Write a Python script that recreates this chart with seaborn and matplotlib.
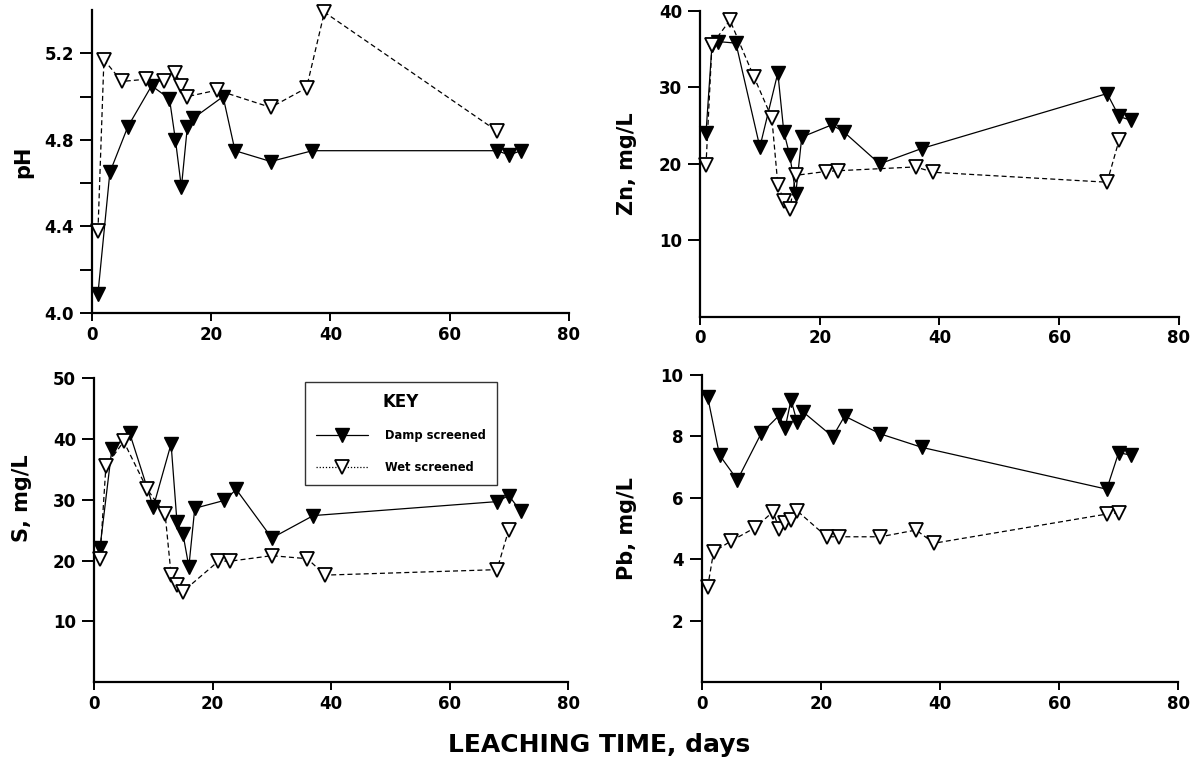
import numpy as np
import pandas as pd
import seaborn as sns
import matplotlib
matplotlib.use("Agg")
import matplotlib.pyplot as plt
from matplotlib.lines import Line2D

# ---- leachate data (days vs. concentration) ----
ph_damp_days = [1, 3, 6, 10, 13, 14, 15, 16, 17, 22, 24, 30, 37, 68, 70, 72]
ph_damp = [4.09, 4.65, 4.86, 5.05, 4.99, 4.80, 4.58, 4.86, 4.90, 5.00, 4.75, 4.70, 4.75, 4.75, 4.73, 4.75]
ph_wet_days = [1, 2, 5, 9, 12, 14, 15, 16, 21, 30, 36, 39, 68]
ph_wet = [4.38, 5.17, 5.07, 5.08, 5.07, 5.11, 5.05, 5.00, 5.03, 4.95, 5.04, 5.39, 4.84]

zn_damp_days = [1, 2, 3, 6, 10, 13, 14, 15, 16, 17, 22, 24, 30, 37, 68, 70, 72]
zn_damp = [24.0, 35.5, 36.0, 35.8, 22.2, 31.9, 24.2, 21.1, 16.1, 23.5, 25.1, 24.2, 20.0, 22.0, 29.2, 26.2, 25.7]
zn_wet_days = [1, 2, 5, 9, 12, 13, 14, 15, 16, 21, 23, 36, 39, 68, 70]
zn_wet = [19.8, 35.6, 38.8, 31.4, 26.0, 17.3, 15.2, 14.1, 18.5, 19.0, 19.1, 19.6, 18.9, 17.6, 23.1]

s_damp_days = [1, 3, 6, 10, 13, 14, 15, 16, 17, 22, 24, 30, 37, 68, 70, 72]
s_damp = [22.1, 38.3, 41.0, 28.8, 39.2, 26.3, 24.4, 19.0, 28.6, 29.9, 31.7, 23.7, 27.4, 29.7, 30.7, 28.1]
s_wet_days = [1, 2, 5, 9, 12, 13, 14, 15, 21, 23, 30, 36, 39, 68, 70]
s_wet = [20.3, 35.5, 39.6, 31.7, 27.6, 17.7, 15.9, 14.9, 19.9, 19.9, 20.8, 20.3, 17.6, 18.5, 25.1]

pb_damp_days = [1, 3, 6, 10, 13, 14, 15, 16, 17, 22, 24, 30, 37, 68, 70, 72]
pb_damp = [9.29, 7.39, 6.58, 8.10, 8.68, 8.26, 9.19, 8.48, 8.80, 7.99, 8.66, 8.08, 7.64, 6.28, 7.47, 7.39]
pb_wet_days = [1, 2, 5, 9, 12, 13, 14, 15, 16, 21, 23, 30, 36, 39, 68, 70]
pb_wet = [3.08, 4.24, 4.60, 5.03, 5.55, 4.98, 5.18, 5.28, 5.58, 4.73, 4.73, 4.73, 4.95, 4.52, 5.47, 5.51]

series_names = ["Damp screened", "Wet screened"]
y_labels = ["pH", "Zn, mg/L", "S, mg/L", "Pb, mg/L"]
x_label = "LEACHING TIME, days"
legend_title = "KEY"

sns.set_theme(style="ticks")
plt.rcParams["font.family"] = ["DejaVu Sans"]
plt.rcParams["font.weight"] = "bold"
plt.rcParams["text.color"] = "black"
plt.rcParams["axes.labelcolor"] = "black"
plt.rcParams["xtick.color"] = "black"
plt.rcParams["ytick.color"] = "black"

fig = plt.figure(figsize=(11.98, 7.59), dpi=100)

# axes rectangles: [left, bottom, width, height] in figure fraction
rects = [
    [0.0768, 0.5876, 0.3979, 0.3992],
    [0.5843, 0.5827, 0.3998, 0.4028],
    [0.0785, 0.1014, 0.3957, 0.4002],
    [0.5857, 0.1014, 0.3978, 0.4046],
]
# y-label anchor (axes fraction) for each panel
label_coords = [(-0.124, 0.5), (-0.132, 0.5), (-0.131, 0.605), (-0.136, 0.5)]

panels = [
    (ph_damp_days, ph_damp, ph_wet_days, ph_wet, (4.0, 5.4), np.arange(4.0, 5.21, 0.4), np.arange(4.2, 5.01, 0.4)),
    (zn_damp_days, zn_damp, zn_wet_days, zn_wet, (0, 40), np.arange(10, 41, 10), None),
    (s_damp_days, s_damp, s_wet_days, s_wet, (0, 50), np.arange(10, 51, 10), None),
    (pb_damp_days, pb_damp, pb_wet_days, pb_wet, (0, 10), np.arange(2, 11, 2), None),
]

damp_style = dict(color="black", linewidth=0.9, linestyle="-", marker="v",
                  markersize=10, markerfacecolor="black", markeredgecolor="black",
                  markeredgewidth=1.0)
wet_style = dict(color="black", linewidth=0.9, linestyle=(0, (4, 2.5)), marker="v",
                 markersize=10, markerfacecolor="white", markeredgecolor="black",
                 markeredgewidth=1.3)

axes = []
for rect, (dd, dv, wd, wv, ylim, yticks, yminor), ylab, lc in zip(rects, panels, y_labels, label_coords):
    ax = fig.add_axes(rect)
    axes.append(ax)
    damp_df = pd.DataFrame({"day": dd, "value": dv})
    wet_df = pd.DataFrame({"day": wd, "value": wv})
    sns.lineplot(data=damp_df, x="day", y="value", ax=ax, estimator=None,
                 sort=False, legend=False, clip_on=False, **damp_style)
    sns.lineplot(data=wet_df, x="day", y="value", ax=ax, estimator=None,
                 sort=False, legend=False, clip_on=False, **wet_style)
    ax.set_xlim(0, 80)
    ax.set_ylim(*ylim)
    ax.set_xticks(np.arange(0, 81, 20))
    ax.set_yticks(yticks)
    if yminor is not None:
        ax.set_yticks(yminor, minor=True)
    fmt = "{:.1f}" if ylab == "pH" else "{:g}"
    ax.set_yticklabels([fmt.format(t) for t in yticks])
    ax.set_xlabel("")
    ax.set_ylabel(ylab, fontsize=15, fontweight="bold", color="black")
    ax.yaxis.set_label_coords(*lc)
    for side in ("top", "right"):
        ax.spines[side].set_visible(False)
    for side in ("left", "bottom"):
        ax.spines[side].set_linewidth(1.6)
        ax.spines[side].set_color("black")
    ax.tick_params(axis="y", which="both", direction="out", length=9,
                   width=1.4, colors="black", labelsize=12, pad=4)
    ax.tick_params(axis="x", which="both", direction="out", length=6,
                   width=1.4, colors="black", labelsize=12, pad=3)
    for lab in ax.get_xticklabels() + ax.get_yticklabels():
        lab.set_fontweight("bold")

# legend inside the S panel
handles = [
    Line2D([], [], **damp_style),
    Line2D([], [], color="black", linewidth=0.9, linestyle=(0, (1, 1.5)), marker="v",
           markersize=10, markerfacecolor="white", markeredgecolor="black",
           markeredgewidth=1.3),
]
leg = axes[2].legend(handles, series_names, title=legend_title,
                     loc="upper left", bbox_to_anchor=(305 / 1198, 1 - 382 / 759),
                     bbox_transform=fig.transFigure, frameon=True, fancybox=False,
                     edgecolor="black", handlelength=4.5, handletextpad=1.5,
                     labelspacing=1.6, borderpad=0.95, borderaxespad=0,
                     prop={"size": 8.3, "weight": "bold"},
                     title_fontproperties={"size": 12, "weight": "bold"})
leg.get_frame().set_linewidth(1.0)
leg.get_title().set_color("black")
for txt in leg.get_texts():
    txt.set_color("black")

fig.text(0.5, 1 - 745 / 759, x_label, ha="center", va="center", fontsize=18,
         fontweight="bold", color="black")

fig.savefig("out.png", dpi=100, facecolor="white")
